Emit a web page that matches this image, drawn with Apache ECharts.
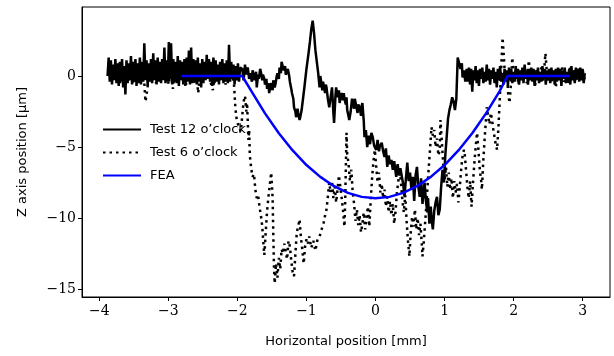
<!DOCTYPE html>
<html>
<head>
<meta charset="utf-8">
<script src="https://cdn.jsdelivr.net/npm/echarts@6/dist/echarts.min.js"></script>
<style>
  html, body { margin: 0; padding: 0; background: #fff; }
  #chart { width: 614px; height: 356px; }
</style>
</head>
<body>
<div id="chart"></div>
<script>
// tick labels
const xTicks = [-4, -3, -2, -1, 0, 1, 2, 3];
const yTicks = [-15, -10, -5, 0];

// Test 12 o'clock: flat noisy part on the left (evenly spread from -3.88 to -1.96)
const test12Left = [
  0.0, 1.3, -0.4, 1.1, -0.6, 0.8, -0.3, 1.2, -0.5, 0.9,
  -0.7, 1.0, -0.4, 1.2, -0.8, 0.7, -1.3, 1.1, -0.5, 0.9,
  -0.3, 1.4, -0.6, 1.0, -0.4, 1.2, -0.7, 0.9, -0.5, 1.3,
  -0.6, 1.0, -0.4, 2.3, -0.3, 1.1, -0.7, 0.9, -0.4, 1.2,
  -0.5, 1.6, -0.3, 1.1, -0.6, 1.3, -0.4, 1.0, -0.5, 1.2,
  -0.3, 2.0, -0.5, 1.1, -0.4, 2.4, -0.2, 2.3, -0.6, 1.2,
  -0.4, 1.0, -0.5, 1.4, -0.7, 1.1, -0.3, 1.0, -0.6, 1.2,
  -0.5, 1.3, -0.4, 1.8, -0.6, 2.0, -0.5, 1.2, -0.4, 1.1,
  -0.6, 1.3, -0.4, 0.9, -0.8, 1.2, -0.5, 1.0, -0.3, 1.5,
  -0.2, 1.2, -0.4, 1.0, -0.7, 1.3, -0.5, 1.1, -0.4, 0.8,
  -0.6, 1.0, -0.3, 1.2, -0.5, 0.9, -0.4, 1.1, -0.5, 2.2,
  -0.4, 1.0, -0.2, 0.8, -0.6, 0.7, -0.3, 0.9, -0.4, 0.6
];
// Test 12 o'clock: middle part [x, y]
const test12Mid = [
  [-1.93, 0.5], [-1.91, -0.3], [-1.89, 0.8], [-1.87, 0.1], [-1.85, 0.6], [-1.83, -0.2], [-1.81, 0.2],
  [-1.79, -0.4], [-1.78, 0.4], [-1.76, -0.1], [-1.75, -0.3], [-1.73, 0.3], [-1.72, -0.8], [-1.70, 0.1],
  [-1.69, -0.2], [-1.67, 0.5], [-1.66, 0.3], [-1.64, -0.3], [-1.63, 0.1], [-1.61, -0.2], [-1.60, -0.6],
  [-1.58, -0.2], [-1.57, -0.9], [-1.55, -0.5], [-1.54, -1.2], [-1.52, -0.7], [-1.51, -0.5], [-1.49, -1.0],
  [-1.48, -0.3], [-1.46, -0.8], [-1.45, -0.6], [-1.43, 0.0], [-1.42, 0.2], [-1.40, -0.2], [-1.39, 0.6],
  [-1.37, 0.2], [-1.36, 1.0], [-1.34, 0.6], [-1.33, 0.4], [-1.31, 0.7], [-1.30, 0.1], [-1.28, 0.3],
  [-1.27, 0.5], [-1.25, 0.0], [-1.24, -0.4], [-1.22, -0.9], [-1.21, -1.2], [-1.19, -1.6], [-1.18, -2.2],
  [-1.16, -2.5], [-1.15, -2.9], [-1.13, -2.3], [-1.12, -2.6], [-1.10, -3.1], [-1.09, -2.9], [-1.07, -2.4],
  [-1.05, -1.6], [-1.03, -0.8], [-1.00, 0.5], [-0.97, 1.6], [-0.95, 2.4], [-0.93, 3.3], [-0.91, 3.9],
  [-0.89, 3.0], [-0.87, 1.8], [-0.85, 1.0], [-0.83, 0.2], [-0.81, -0.8], [-0.80, 0.0], [-0.79, -0.3],
  [-0.77, -1.0], [-0.76, -0.4], [-0.75, -0.5], [-0.73, -1.2], [-0.72, -0.6], [-0.71, -0.8], [-0.69, -1.6],
  [-0.67, -2.2], [-0.65, -1.5], [-0.63, -0.8], [-0.61, -2.6], [-0.60, -3.3], [-0.58, -1.4], [-0.57, -0.8],
  [-0.55, -1.5], [-0.53, -1.0], [-0.52, -1.9], [-0.50, -1.4], [-0.49, -1.2], [-0.47, -1.7], [-0.46, -1.2],
  [-0.45, -1.6], [-0.43, -2.0], [-0.42, -1.5], [-0.41, -2.4], [-0.38, -3.1], [-0.36, -2.5], [-0.34, -1.6],
  [-0.33, -1.9], [-0.31, -2.3], [-0.30, -1.6], [-0.28, -1.7], [-0.26, -2.6], [-0.25, -2.0], [-0.23, -2.2],
  [-0.21, -2.8], [-0.20, -2.1], [-0.19, -1.9], [-0.17, -3.2], [-0.16, -4.3], [-0.14, -3.8], [-0.12, -5.0],
  [-0.10, -4.2], [-0.08, -4.8], [-0.06, -4.0], [-0.04, -4.3], [-0.02, -4.9], [0.01, -5.2], [0.03, -4.5],
  [0.05, -5.3], [0.06, -5.0], [0.09, -4.7], [0.11, -5.3], [0.13, -5.7], [0.15, -5.1], [0.17, -6.4],
  [0.19, -5.6], [0.21, -6.2], [0.23, -5.9], [0.25, -6.6], [0.27, -6.0], [0.30, -7.1], [0.32, -6.2],
  [0.34, -7.0], [0.36, -6.5], [0.38, -6.4], [0.40, -7.6], [0.42, -8.5], [0.44, -7.2], [0.46, -6.1],
  [0.48, -7.4], [0.50, -6.8], [0.52, -8.0], [0.54, -7.1], [0.56, -8.8], [0.58, -7.0], [0.60, -6.4],
  [0.62, -7.8], [0.64, -8.5], [0.66, -7.2], [0.68, -9.0], [0.70, -8.0], [0.71, -7.5], [0.73, -8.8],
  [0.75, -9.6], [0.76, -8.6], [0.78, -10.4], [0.80, -9.2], [0.81, -10.0], [0.83, -10.8], [0.85, -9.5],
  [0.87, -8.9], [0.89, -8.5], [0.91, -9.8], [0.93, -9.4], [0.95, -7.8], [0.97, -6.6], [0.99, -7.5],
  [1.01, -5.6], [1.03, -4.3], [1.05, -3.0], [1.07, -2.4], [1.09, -2.0], [1.11, -1.5], [1.13, -1.8],
  [1.15, -2.4], [1.17, -1.6], [1.19, 1.3], [1.21, 1.3], [1.23, 0.5], [1.25, 0.9], [1.26, -0.1],
  [1.28, 0.4], [1.30, -0.4]
];
// Test 12 o'clock: flat noisy part on the right (evenly spread from 1.32 to 3.03)
const test12Right = [
  0.5, -0.4, 0.6, -0.6, 0.5, -1.1, 0.4, -0.3, 0.7, -0.5,
  0.4, -0.7, 0.5, -0.2, 0.6, -0.5, 0.3, -0.4, 0.8, -0.3,
  0.5, -0.6, 0.4, -0.2, 0.6, -0.5, 0.3, -0.8, 0.5, -0.3,
  0.7, -0.4, 0.2, -0.6, 0.5, -0.2, 0.4, -0.7, 0.6, -0.3,
  0.5, -0.5, 0.3, -0.4, 0.7, -0.2, 0.5, -0.6, 0.4, -0.3,
  0.6, -0.5, 0.8, -0.2, 0.4, -0.6, 0.5, -0.3, 0.6, -0.4,
  0.5, -0.7, 0.4, -0.3, 0.6, -0.5, 0.3, -0.4, 0.7, -0.2,
  0.5, -0.6, 0.4, -0.3, 0.5, -0.5, 0.6, -0.2, 0.4, -0.6,
  0.5, -0.4, 0.6, -0.3, 0.5, -0.7, 0.4, -0.2, 0.6, -0.5,
  0.3, -0.4, 0.5, -0.6, 0.7, -0.3, 0.4, -0.5, 0.6, -0.2,
  0.5, -0.4, 0.6, -0.3, 0.5, -0.5, 0.2
];

// Test 6 o'clock: left flat part (evenly spread from -3.85 to -2.11)
const test6Left = [
  0.3, -0.4, 0.6, -0.2, 0.5, -0.5, 0.4, -0.3, 0.7, -0.4,
  0.2, -0.6, 0.5, -0.3, 0.4, -0.2, 0.6, -1.8, -0.8, 0.5,
  -0.4, 0.3, -0.5, 0.6, -0.3, 0.4, -0.2, 0.5, -0.6, 0.3,
  -0.9, 0.4, -0.3, 0.6, -0.4, 0.5, -0.8, 0.2, -0.3, 0.4,
  -0.6, 0.5, -1.2, 0.3, -0.4, 0.6, -0.2, 0.4, -0.5, -1.0,
  0.3, -0.4, 0.5, -0.3, 0.4, -0.6, 0.3, -0.2
];
// Test 6 o'clock: middle part [x, y]
const test6Mid = [
  [-2.08, 0.2], [-2.05, -0.5], [-2.03, -2.2], [-2.01, -3.1], [-1.98, -3.6], [-1.95, -3.9], [-1.93, -2.8],
  [-1.91, -1.8], [-1.89, -1.4], [-1.87, -2.5], [-1.86, -1.9], [-1.85, -3.2], [-1.84, -4.5], [-1.83, -3.8],
  [-1.82, -5.6], [-1.80, -6.5], [-1.78, -7.1], [-1.76, -6.9], [-1.74, -8.0], [-1.72, -8.6], [-1.70, -8.4],
  [-1.68, -9.2], [-1.66, -9.8], [-1.64, -10.6], [-1.62, -12.0], [-1.61, -12.6], [-1.59, -11.0], [-1.57, -9.5],
  [-1.55, -8.5], [-1.53, -7.6], [-1.51, -6.8], [-1.49, -8.6], [-1.48, -11.2], [-1.47, -13.5], [-1.46, -14.6],
  [-1.44, -13.2], [-1.42, -14.2], [-1.40, -12.8], [-1.38, -13.6], [-1.36, -12.2], [-1.34, -12.5], [-1.32, -11.8],
  [-1.30, -12.4], [-1.28, -12.9], [-1.26, -11.6], [-1.24, -12.0], [-1.22, -13.0], [-1.20, -13.8], [-1.18, -14.1],
  [-1.16, -12.5], [-1.14, -11.0], [-1.12, -10.6], [-1.10, -10.1], [-1.08, -11.4], [-1.06, -12.2], [-1.04, -13.2],
  [-1.02, -12.0], [-1.00, -11.5], [-0.98, -11.8], [-0.96, -11.3], [-0.93, -12.1], [-0.90, -11.6], [-0.87, -12.3],
  [-0.84, -11.5], [-0.81, -11.3], [-0.78, -10.8], [-0.75, -10.3], [-0.73, -9.8], [-0.71, -9.4], [-0.69, -8.5],
  [-0.67, -7.5], [-0.65, -8.2], [-0.63, -7.4], [-0.61, -8.6], [-0.59, -7.8], [-0.57, -8.9], [-0.55, -8.0],
  [-0.53, -7.0], [-0.51, -7.8], [-0.49, -8.6], [-0.47, -9.5], [-0.45, -10.6], [-0.44, -9.0], [-0.43, -6.5],
  [-0.42, -4.0], [-0.41, -5.5], [-0.39, -6.2], [-0.37, -7.4], [-0.35, -6.6], [-0.33, -8.2], [-0.31, -9.0],
  [-0.29, -10.2], [-0.27, -9.4], [-0.25, -10.5], [-0.23, -9.8], [-0.21, -11.0], [-0.19, -10.4], [-0.17, -9.6],
  [-0.15, -10.8], [-0.13, -10.0], [-0.11, -9.2], [-0.09, -10.6], [-0.07, -8.8], [-0.05, -7.2], [-0.03, -6.0],
  [-0.01, -5.2], [0.01, -6.4], [0.03, -7.5], [0.05, -6.8], [0.07, -8.2], [0.09, -7.6], [0.11, -8.6],
  [0.13, -8.0], [0.15, -9.2], [0.17, -8.5], [0.19, -9.6], [0.21, -8.8], [0.23, -9.8], [0.25, -9.0],
  [0.27, -10.4], [0.29, -9.5], [0.31, -8.2], [0.33, -7.4], [0.35, -6.6], [0.37, -7.6], [0.39, -8.8],
  [0.41, -9.6], [0.43, -8.4], [0.45, -10.2], [0.47, -11.6], [0.49, -12.7], [0.51, -11.0], [0.53, -9.9],
  [0.55, -10.6], [0.57, -9.4], [0.59, -10.8], [0.61, -10.0], [0.63, -11.2], [0.65, -10.4], [0.67, -11.8],
  [0.68, -12.7], [0.70, -11.6], [0.72, -10.2], [0.74, -8.8], [0.76, -7.2], [0.78, -5.8], [0.80, -4.4],
  [0.81, -3.6], [0.83, -4.2], [0.85, -3.8], [0.87, -5.0], [0.89, -4.4], [0.91, -5.6], [0.93, -5.2],
  [0.94, -3.1], [0.96, -4.6], [0.98, -6.2], [1.00, -7.4], [1.02, -6.4], [1.04, -7.8], [1.06, -6.8],
  [1.08, -8.0], [1.10, -7.2], [1.12, -8.6], [1.14, -7.4], [1.16, -8.2], [1.18, -7.6], [1.20, -8.9],
  [1.22, -7.8], [1.24, -6.6], [1.26, -5.6], [1.28, -5.2], [1.29, -5.4], [1.31, -6.6], [1.33, -7.8],
  [1.35, -8.6], [1.37, -7.4], [1.39, -9.2], [1.41, -7.6], [1.43, -6.2], [1.45, -5.0], [1.47, -4.0],
  [1.49, -5.2], [1.51, -6.6], [1.53, -7.4], [1.54, -8.0], [1.56, -6.0], [1.58, -4.4], [1.60, -3.0],
  [1.61, -2.2], [1.63, -2.8], [1.65, -3.4], [1.67, -2.6], [1.69, -3.2], [1.70, -3.6], [1.72, -4.2],
  [1.74, -4.8], [1.76, -5.2], [1.78, -3.6], [1.80, -1.5], [1.82, 0.6], [1.84, 2.7], [1.86, 1.2],
  [1.88, -0.5], [1.90, 0.4], [1.92, -1.2], [1.94, -1.9], [1.96, -0.6]
];
// Test 6 o'clock: right flat part (evenly spread from 1.98 to 3.03)
const test6Right = [
  1.3, -0.4, 0.5, -0.6, 0.3, -0.2, 0.6, -0.5, 1.1, -0.3,
  0.2, -0.7, 0.5, -0.3, 0.6, -0.4, 1.6, -0.3, 0.4, -0.5,
  0.3, -0.8, 0.5, -0.2, 0.6, -0.4, 0.3, -0.6, 0.7, -0.3,
  0.5, -0.4, 0.6, -0.2, 0.4, -0.3
];

// FEA
const feaX = [-2.81, -1.93, -1.8, -1.6, -1.4, -1.2, -1.0, -0.8, -0.6, -0.4, -0.2, 0,
  0.2, 0.4, 0.6, 0.8, 1.0, 1.2, 1.4, 1.6, 1.8, 1.91, 2.81];
const feaY = [0, 0, -1.04, -2.63, -4.03, -5.24, -6.27, -7.10, -7.76, -8.23, -8.51, -8.6,
  -8.51, -8.23, -7.76, -7.10, -6.27, -5.24, -4.03, -2.63, -1.04, 0, 0];

// spread values evenly between x0 and x1
function spread(x0, x1, ys) {
  const n = ys.length;
  return ys.map((y, i) => [x0 + (x1 - x0) * i / (n - 1), y]);
}

const test12 = spread(-3.88, -1.96, test12Left).concat(test12Mid, spread(1.32, 3.03, test12Right));
const test6 = spread(-3.85, -2.11, test6Left).concat(test6Mid, spread(1.98, 3.03, test6Right));
const fea = feaX.map((x, i) => [x, feaY[i]]);

const minus = v => String(v).replace('-', '\u2212');
const sans = 'DejaVu Sans';
const serif = 'DejaVu Serif';

const chart = echarts.init(document.getElementById('chart'), null, { renderer: 'canvas' });
chart.setOption({
  animation: false,
  backgroundColor: '#fff',
  grid: {
    left: 82, right: 4, top: 7, bottom: 59,
    show: true, borderColor: '#000', borderWidth: 1, backgroundColor: 'transparent'
  },
  legend: {
    orient: 'vertical',
    left: 97, top: 118,
    itemWidth: 38, itemHeight: 14, itemGap: 10,
    itemStyle: { opacity: 0 },
    textStyle: { fontFamily: sans, fontSize: 13, color: '#000', padding: [0, 0, 0, 4] },
    data: ['Test 12 o\u2019clock', 'Test 6 o\u2019clock', 'FEA']
  },
  xAxis: {
    type: 'value',
    min: -4.25, max: 3.395,
    name: 'Horizontal position [mm]',
    nameLocation: 'middle', nameGap: 38,
    nameTextStyle: { fontFamily: sans, fontSize: 13, color: '#000' },
    axisLine: { show: true, onZero: false, lineStyle: { color: '#000', width: 1 } },
    axisTick: { show: true, length: 4, customValues: xTicks, lineStyle: { color: '#000' } },
    axisLabel: { customValues: xTicks, margin: 7, formatter: minus,
      fontFamily: serif, fontSize: 14, color: '#000' },
    splitLine: { show: false }
  },
  yAxis: {
    type: 'value',
    min: -15.56, max: 4.86,
    name: 'Z axis position [\u03bcm]',
    nameLocation: 'middle', nameGap: 53,
    nameTextStyle: { fontFamily: sans, fontSize: 13, color: '#000' },
    axisLine: { show: true, onZero: false, lineStyle: { color: '#000', width: 1 } },
    axisTick: { show: true, length: 4, customValues: yTicks, lineStyle: { color: '#000' } },
    axisLabel: { customValues: yTicks, margin: 6, formatter: minus,
      fontFamily: serif, fontSize: 14, color: '#000' },
    splitLine: { show: false }
  },
  series: [
    {
      name: 'Test 12 o\u2019clock', type: 'line', data: test12,
      showSymbol: false, symbol: 'none',
      lineStyle: { color: '#000', width: 2.5 }, itemStyle: { color: '#000' }
    },
    {
      name: 'Test 6 o\u2019clock', type: 'line', data: test6,
      showSymbol: false, symbol: 'none',
      lineStyle: { color: '#000', width: 2.5, type: [2.5, 4] }, itemStyle: { color: '#000' }
    },
    {
      name: 'FEA', type: 'line', data: fea,
      showSymbol: false, symbol: 'none',
      lineStyle: { color: '#0000ff', width: 2.5 }, itemStyle: { color: '#0000ff' }
    }
  ]
});
</script>
</body>
</html>
